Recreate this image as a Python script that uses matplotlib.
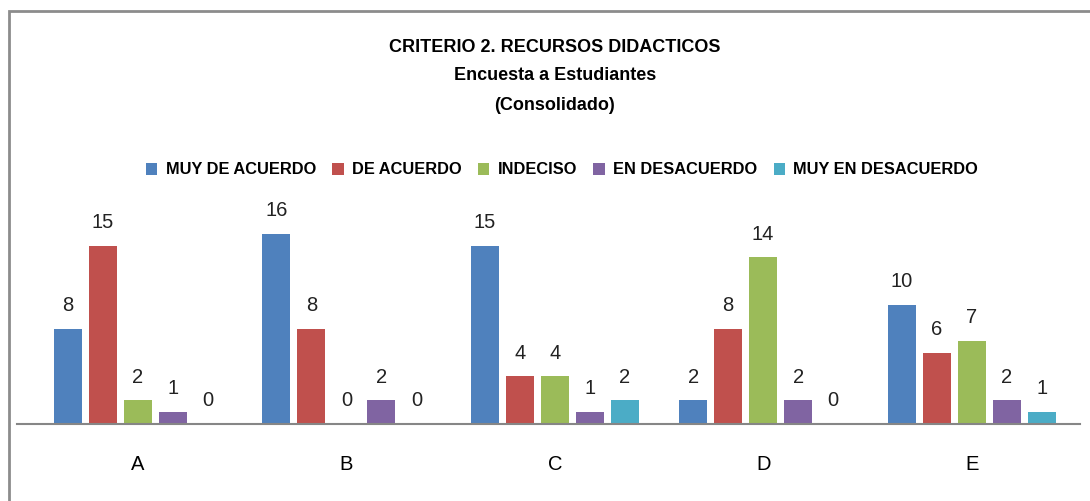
import numpy as np
import matplotlib.pyplot as plt
from matplotlib.patches import Rectangle

# Data
categories = ["A", "B", "C", "D", "E"]
series = ["MUY DE ACUERDO", "DE ACUERDO", "INDECISO", "EN DESACUERDO", "MUY EN DESACUERDO"]
muy_de_acuerdo = [8, 16, 15, 2, 10]
de_acuerdo = [15, 8, 4, 8, 6]
indeciso = [2, 0, 4, 14, 7]
en_desacuerdo = [1, 2, 1, 2, 2]
muy_en_desacuerdo = [0, 0, 2, 0, 1]
values = [muy_de_acuerdo, de_acuerdo, indeciso, en_desacuerdo, muy_en_desacuerdo]
colors = ["#4F81BD", "#C0504D", "#9BBB59", "#8064A2", "#4BACC6"]

plt.rcParams["font.family"] = ["Liberation Sans", "DejaVu Sans"]

fig = plt.figure(figsize=(10.9, 5.01), dpi=100)
W, H = 1090, 501

# Chart border (only left and top visible in the crop)
fig.patches.append(Rectangle((9 / W, -0.1), 1.2, 1 - 11 / H + 0.1, transform=fig.transFigure,
                             fill=False, edgecolor="#8C8C8C", linewidth=2))

ax = fig.add_axes([17 / W, 77 / H, 1063 / W, 226 / H])

x = np.arange(len(categories))
pitch = 0.168
width = 0.135
for i, (vals, c) in enumerate(zip(values, colors)):
    pos = x + (i - 2) * pitch
    ax.bar(pos, vals, width=width, color=c, label=series[i])
    for xp, v in zip(pos, vals):
        ax.text(xp, v + 1.15, str(v), ha="center", va="bottom", fontsize=14.5, color="#222222")

ax.set_xlim(-0.58, 4.52)
ax.set_ylim(0, 19)
ax.set_yticks([])
ax.set_xticks(x)
ax.set_xticklabels(categories, fontsize=14.5)
ax.tick_params(axis="x", length=0, pad=22)
for s in ["top", "right", "left"]:
    ax.spines[s].set_visible(False)
ax.spines["bottom"].set_color("#868686")
ax.spines["bottom"].set_linewidth(1.5)

# Title
fig.text(555 / W, 1 - 48 / H, "CRITERIO 2. RECURSOS DIDACTICOS", ha="center", va="center",
         fontsize=13, fontweight="bold")
fig.text(555 / W, 1 - 76 / H, "Encuesta a Estudiantes", ha="center", va="center",
         fontsize=13, fontweight="bold")
fig.text(555 / W, 1 - 105 / H, "(Consolidado)", ha="center", va="center",
         fontsize=13, fontweight="bold")

# Legend
handles, labels = ax.get_legend_handles_labels()
leg = fig.legend(handles, labels, loc="center", bbox_to_anchor=(562 / W, 1 - 170 / H), ncol=5,
                 frameon=False, handlelength=0.7, handleheight=0.7, handletextpad=0.5,
                 columnspacing=1.0, prop={"size": 11.8, "weight": "bold"})

fig.savefig("out.png", dpi=100)
